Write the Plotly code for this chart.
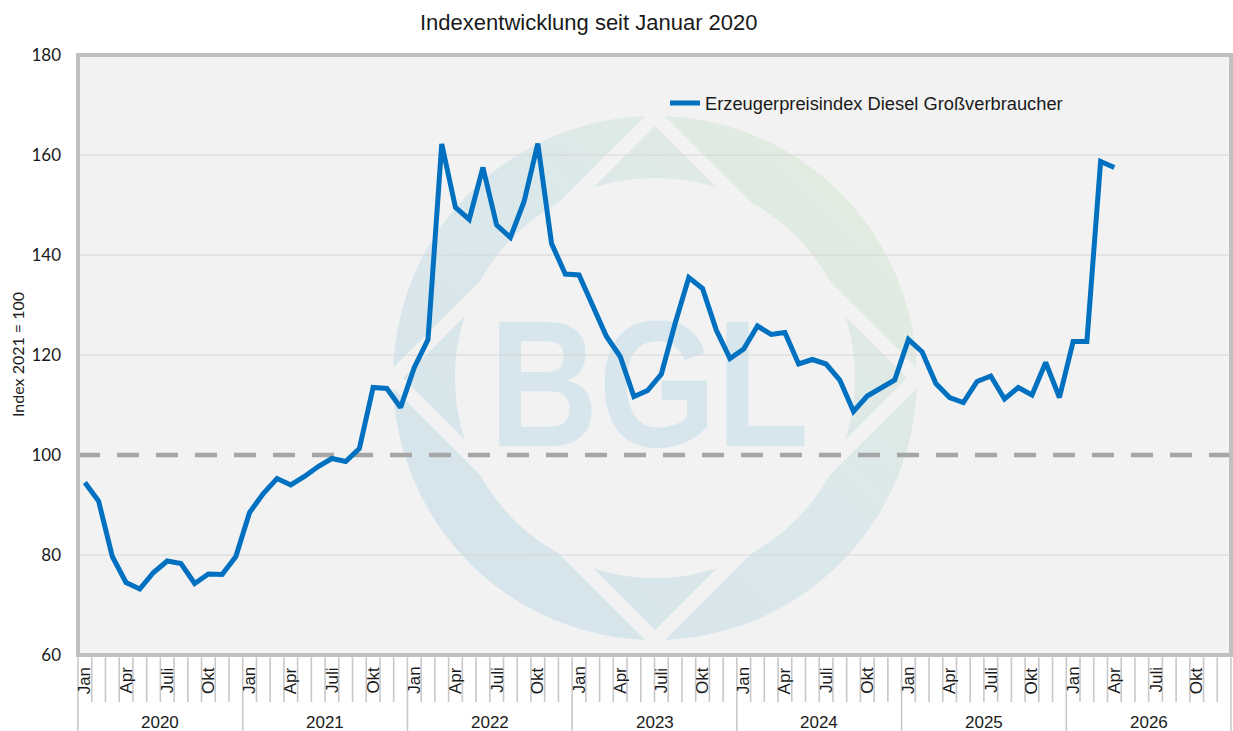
import base64
import plotly.graph_objects as go

# ---------------- data ----------------
YEARS = [2020, 2021, 2022, 2023, 2024, 2025, 2026]
MONTH_TICKS = ["Jan", "Apr", "Juli", "Okt"]
MONTH_TICK_POS = [0, 3, 6, 9]
Y_TICKS = [60, 80, 100, 120, 140, 160, 180]
BASELINE = 100
SERIES_NAME = "Erzeugerpreisindex Diesel Großverbraucher"
TITLE = "Indexentwicklung seit Januar 2020"
Y_TITLE = "Index 2021 = 100"

diesel_2020 = [94.5, 90.8, 79.7, 74.5, 73.2, 76.5, 78.8, 78.3, 74.3, 76.2, 76.1, 79.7]
diesel_2021 = [88.5, 92.3, 95.3, 94.0, 95.7, 97.7, 99.3, 98.7, 101.3, 113.5, 113.3, 109.5]
diesel_2022 = [117.5, 123.1, 162.2, 149.5, 147.1, 157.5, 146.0, 143.5, 150.7, 162.3, 142.3, 136.2]
diesel_2023 = [136.0, 129.7, 123.7, 119.7, 111.7, 112.9, 116.2, 126.3, 135.5, 133.3, 125.0, 119.3]
diesel_2024 = [121.2, 125.8, 124.1, 124.5, 118.2, 119.1, 118.2, 115.0, 108.7, 111.8, 113.5, 115.0]
diesel_2025 = [123.1, 120.6, 114.3, 111.5, 110.5, 114.7, 115.8, 111.2, 113.5, 112.0, 118.5, 111.5]
diesel_2026 = [122.7, 122.7, 158.7, 157.5]

values = diesel_2020 + diesel_2021 + diesel_2022 + diesel_2023 + diesel_2024 + diesel_2025 + diesel_2026
n_months = 12 * len(YEARS)
x_vals = list(range(len(values)))

ARIAL = "Liberation Sans, Arial, sans-serif"
CALIBRI = "Lato, Liberation Sans, sans-serif"

fig = go.Figure()
fig.add_trace(go.Scatter(
    x=x_vals, y=values, mode="lines", name=SERIES_NAME,
    line=dict(color="#0070C0", width=5), hoverinfo="skip",
))

# ---------------- watermark (BGL logo) ----------------
svg = '''<svg xmlns="http://www.w3.org/2000/svg" width="524" height="524" viewBox="0 0 524 524">
<defs>
<linearGradient id="g" x1="0" y1="1" x2="1" y2="0">
<stop offset="0" stop-color="#d4e4ec"/>
<stop offset="0.55" stop-color="#dbe8eb"/>
<stop offset="1" stop-color="#e5eddb"/>
</linearGradient>
<mask id="m">
<rect width="524" height="524" fill="white"/>
<polygon points="262,0 524,262 262,524 0,262" fill="none" stroke="black" stroke-width="14"/>
<circle cx="262" cy="262" r="200" fill="black"/>
</mask>
</defs>
<circle cx="262" cy="262" r="262" fill="url(#g)" mask="url(#m)"/>
<text x="256" y="330" font-family="Liberation Sans, Arial" font-weight="bold" font-size="180" fill="#d7e6ed" text-anchor="middle" textLength="320" lengthAdjust="spacingAndGlyphs">BGL</text>
</svg>'''
src = "data:image/svg+xml;base64," + base64.b64encode(svg.encode("utf-8")).decode("ascii")
PLOT_W = 1153
PLOT_H = 600
fig.add_layout_image(dict(
    source=src, xref="paper", yref="paper",
    x=(393 - 78) / PLOT_W, y=(655 - 116) / PLOT_H,
    sizex=524 / PLOT_W, sizey=524 / PLOT_H,
    xanchor="left", yanchor="top", sizing="stretch", layer="below",
))

# horizontal gridlines (below), then the dashed baseline on top of them
for v in Y_TICKS:
    if v != BASELINE:
        fig.add_hline(y=v, line=dict(color="#d6d6d6", width=1), layer="below")
fig.add_hline(y=BASELINE, line=dict(color="#a6a6a6", width=4.5, dash="22px,17px"), layer="below")

# plot border
fig.add_shape(type="rect", xref="paper", yref="paper", x0=0, x1=1, y0=0, y1=1,
              line=dict(color="#c0c0c0", width=4), layer="above")

# month / year separators below the axis
for k in range(n_months + 1):
    is_year = (k % 12 == 0)
    fig.add_shape(type="line", xref="paper", yref="paper",
                  x0=k / n_months, x1=k / n_months, y0=-0.004,
                  y1=(-76 / PLOT_H) if is_year else (-47 / PLOT_H),
                  line=dict(color="#c8c8c8", width=1.6))

annotations = []
for yi, yr in enumerate(YEARS):
    for lbl, off in zip(MONTH_TICKS, MONTH_TICK_POS):
        annotations.append(dict(
            x=yi * 12 + off, y=0, xref="x", yref="paper", text=lbl, showarrow=False,
            textangle=-90, xanchor="center", yanchor="top", yshift=-10,
            font=dict(family=ARIAL, size=17, color="#1a1a1a"),
        ))
    annotations.append(dict(
        x=yi * 12 + 5.5, y=0, xref="x", yref="paper", text=str(yr), showarrow=False,
        xanchor="center", yanchor="middle", yshift=-67,
        font=dict(family=ARIAL, size=17, color="#1a1a1a"),
    ))

annotations.append(dict(
    x=(589 - 78) / PLOT_W, y=(655 - 22) / PLOT_H, xref="paper", yref="paper", text=TITLE,
    showarrow=False, xanchor="center", yanchor="middle",
    font=dict(family=ARIAL, size=22, color="#1a1a1a"),
))
annotations.append(dict(
    x=(17 - 78) / PLOT_W, y=(655 - 355) / PLOT_H, xref="paper", yref="paper", text=Y_TITLE,
    showarrow=False, textangle=-90, xanchor="center", yanchor="middle",
    font=dict(family=CALIBRI, size=16, color="#1a1a1a"),
))

fig.update_layout(
    width=1233, height=731,
    margin=dict(l=78, r=2, t=55, b=76),
    paper_bgcolor="white", plot_bgcolor="#f2f2f2",
    xaxis=dict(range=[-0.5, n_months - 0.5], showgrid=False, showticklabels=False,
               zeroline=False, showline=False, ticks="", automargin=False),
    yaxis=dict(range=[60, 180], tickvals=Y_TICKS, showgrid=False,
               zeroline=False, showline=False, ticks="", automargin=False,
               ticklabelstandoff=16,
               tickfont=dict(family=CALIBRI, size=17, color="#1a1a1a")),
    showlegend=True,
    legend=dict(x=(665 - 78) / PLOT_W, y=(655 - 103) / PLOT_H, xanchor="left", yanchor="middle",
                bgcolor="rgba(0,0,0,0)", font=dict(family=ARIAL, size=18.3, color="#1a1a1a"),
                itemwidth=30),
    annotations=annotations,
)

fig.write_html("out.html", config={"displayModeBar": False},
               post_script="document.body.style.margin='0px';document.body.style.overflow='hidden';")
